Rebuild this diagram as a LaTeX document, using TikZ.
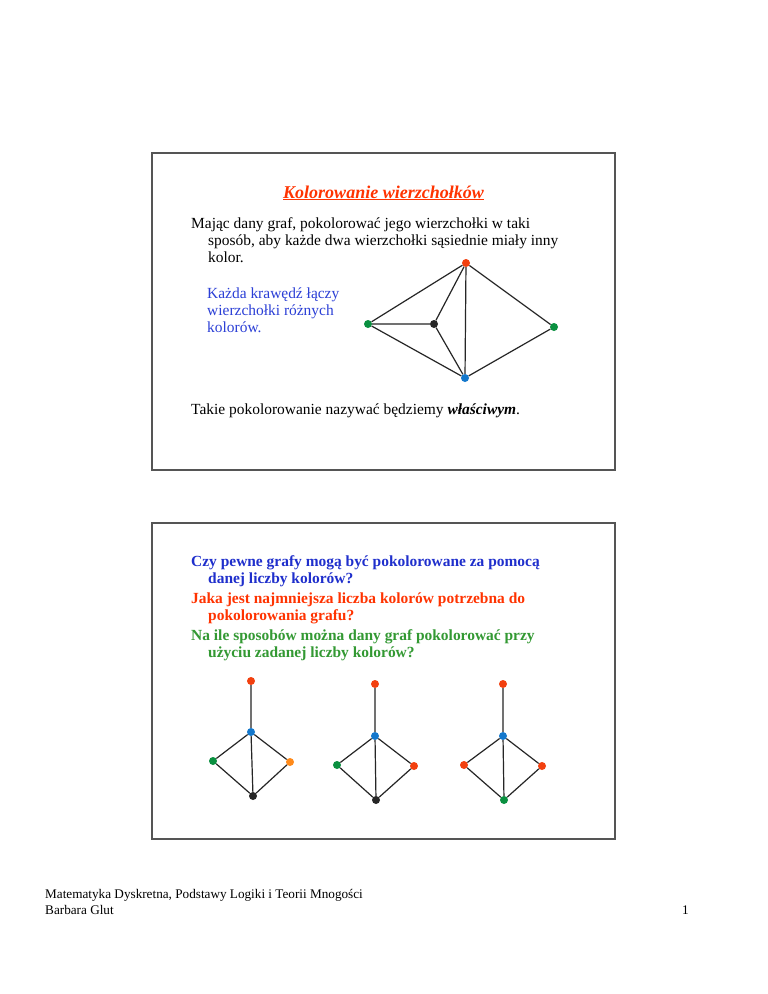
\documentclass[tikz,border=0pt]{standalone}
\usepackage{fontspec}
\setmainfont{Liberation Serif}
\definecolor{tred}{HTML}{FF3300}
\definecolor{tblue}{HTML}{2B3FD6}
\definecolor{qblue}{HTML}{1F2FCC}
\definecolor{tgreen}{HTML}{339933}
\definecolor{vred}{HTML}{F2400F}
\definecolor{vgreen}{HTML}{0A9040}
\definecolor{vblue}{HTML}{1478CC}
\definecolor{vorange}{HTML}{FF8A1A}
\definecolor{frame}{HTML}{555555}
\begin{document}
\begin{tikzpicture}[x=1pt,y=-1pt,
  txt/.style={anchor=base west, inner sep=0pt, font=\fontsize{15.45}{17}\selectfont},
  btxt/.style={txt, font=\fontsize{15.45}{17}\selectfont\bfseries},
  foot/.style={anchor=base west, inner sep=0pt, font=\fontsize{13.2}{15}\selectfont},
  slide/.style={draw=frame, line width=1.6pt},
  vtx/.style={circle, inner sep=0pt, minimum size=8pt},
  edge/.style={draw=black!85, line width=1.2pt}]
\useasboundingbox (0,0) rectangle (768,994);
\fill[white] (0,0) rectangle (768,994);
% slide frames
\draw[slide] (152,153) rectangle (615,470);
\draw[slide] (152,523) rectangle (615,839);
% slide 1 text
\node[anchor=base, inner sep=0pt, text=tred, font=\fontsize{18}{20}\selectfont\bfseries\itshape] (title) at (383.5,198) {\underline{Kolorowanie wierzchołków}};
\node[txt] (p1a) at (191,228) {Mając dany graf, pokolorować jego wierzchołki w taki};
\node[txt] (p1b) at (208,245) {sposób, aby każde dwa wierzchołki sąsiednie miały inny};
\node[txt] (p1c) at (208,262) {kolor.};
\node[txt, text=tblue] (q1) at (207,298) {Każda krawędź łączy};
\node[txt, text=tblue] (q2) at (207,315) {wierzchołki różnych};
\node[txt, text=tblue] (q3) at (207,332) {kolorów.};
\node[txt] (p2) at (191,414) {Takie pokolorowanie nazywać będziemy \textbf{\textit{właściwym}}.};
% graph 1
\node[vtx, fill=vred] (r) at (466,263) {};
\node[vtx, fill=vgreen] (gl) at (368,324) {};
\node[vtx, fill=black!85] (k) at (434,324) {};
\node[vtx, fill=vgreen] (gr) at (554,327) {};
\node[vtx, fill=vblue] (b) at (465,378) {};
\path[edge] (r) -- (gl) (r) -- (k) (r) -- (b) (r) -- (gr)
  (gl) -- (k) (gl) -- (b) (k) -- (b) (b) -- (gr);
% slide 2 text
\node[btxt, text=qblue] (s1) at (191,566) {Czy pewne grafy mogą być pokolorowane za pomocą};
\node[btxt, text=qblue] (s2) at (208,583) {danej liczby kolorów?};
\node[btxt, text=tred] (s3) at (191,603) {Jaka jest najmniejsza liczba kolorów potrzebna do};
\node[btxt, text=tred] (s4) at (208,620) {pokolorowania grafu?};
\node[btxt, text=tgreen] (s5) at (191,640) {Na ile sposobów można dany graf pokolorować przy};
\node[btxt, text=tgreen] (s6) at (208,657) {użyciu zadanej liczby kolorów?};
% graph A
\node[vtx, fill=vred] (at) at (251,681) {};
\node[vtx, fill=vblue] (ab) at (251,732) {};
\node[vtx, fill=vgreen] (al) at (213,761) {};
\node[vtx, fill=vorange] (ar) at (290,762) {};
\node[vtx, fill=black!85] (ad) at (253,796) {};
\path[edge] (at) -- (ab) (ab) -- (al) (ab) -- (ar) (al) -- (ad) (ar) -- (ad) (ab) -- (ad);
% graph B
\node[vtx, fill=vred] (bt) at (375,684) {};
\node[vtx, fill=vblue] (bb) at (375,736) {};
\node[vtx, fill=vgreen] (bl) at (337,765) {};
\node[vtx, fill=vred] (br) at (414,766) {};
\node[vtx, fill=black!85] (bd) at (376,800) {};
\path[edge] (bt) -- (bb) (bb) -- (bl) (bb) -- (br) (bl) -- (bd) (br) -- (bd) (bb) -- (bd);
% graph C
\node[vtx, fill=vred] (ct) at (503,684) {};
\node[vtx, fill=vblue] (cb) at (503,736) {};
\node[vtx, fill=vred] (cl) at (464,765) {};
\node[vtx, fill=vred] (cr) at (542,766) {};
\node[vtx, fill=vgreen] (cd) at (504,800) {};
\path[edge] (ct) -- (cb) (cb) -- (cl) (cb) -- (cr) (cl) -- (cd) (cr) -- (cd) (cb) -- (cd);
% footer
\node[foot] (f1) at (45,898) {Matematyka Dyskretna, Podstawy Logiki i Teorii Mnogości};
\node[foot] (f2) at (45,914) {Barbara Glut};
\node[foot] (pg) at (682,914) {1};
\end{tikzpicture}
\end{document}
